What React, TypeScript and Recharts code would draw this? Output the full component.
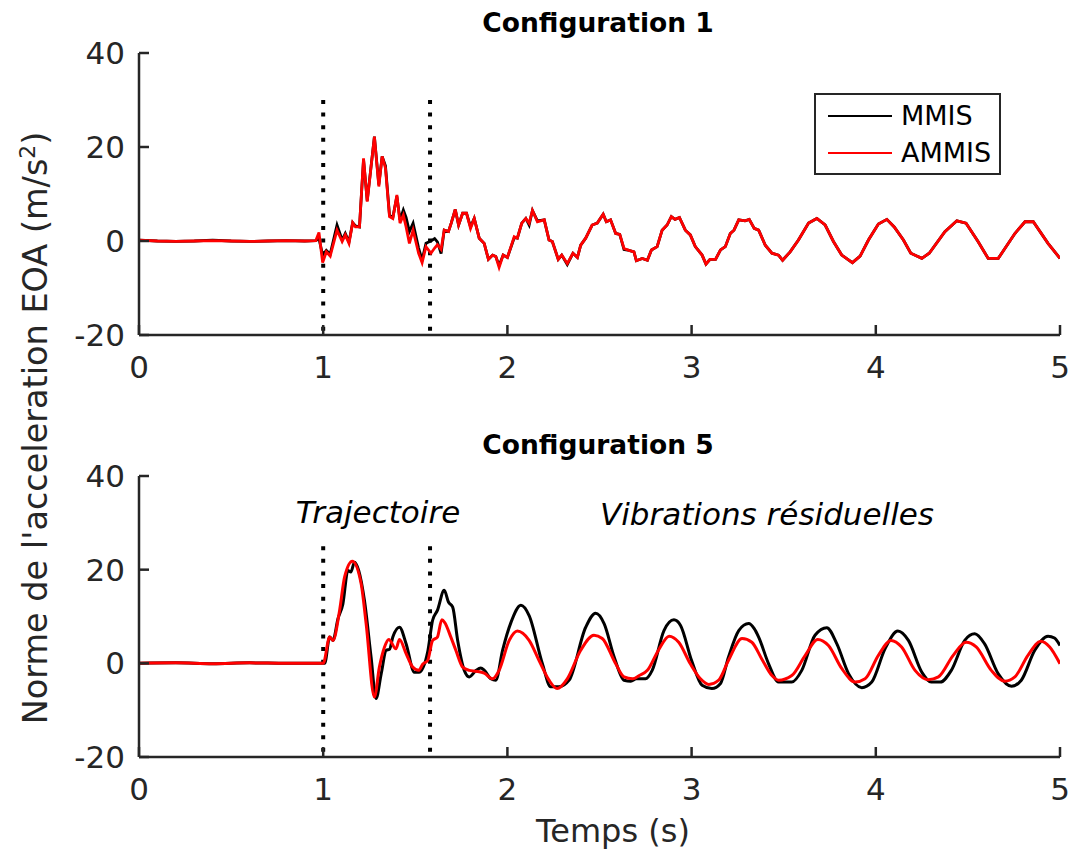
import React from 'react';
import { LineChart, Line, XAxis, YAxis, ReferenceLine, Legend } from 'recharts';

// ---------- DATA ----------
const xTicks = [0, 1, 2, 3, 4, 5];
const yTicks = [-20, 0, 20, 40];
const phaseBounds = [1.0, 1.58];
const dividerTop1 = 30;
const dividerTop2 = 25;

// Configuration 1 (shared time base)
const c1Time = [
  0, 0.1, 0.2, 0.3, 0.4, 0.5, 0.6, 0.7, 0.8, 0.9, 0.96, 0.977, 0.997, 1.017, 1.038, 1.075, 1.103, 1.12, 1.14, 1.16,
  1.175, 1.197, 1.219, 1.239, 1.278, 1.302, 1.32, 1.338, 1.36, 1.378, 1.4, 1.417, 1.435, 1.45, 1.468, 1.488, 1.518, 1.537, 1.558, 1.585,
  1.605, 1.62, 1.64, 1.657, 1.68, 1.695, 1.717, 1.735, 1.757, 1.778, 1.8, 1.82, 1.847, 1.874, 1.897, 1.92, 1.937, 1.955, 1.977, 2.0,
  2.037, 2.054, 2.078, 2.1, 2.118, 2.136, 2.163, 2.2, 2.226, 2.244, 2.276, 2.295, 2.325, 2.356, 2.38, 2.398, 2.425, 2.46, 2.488, 2.52,
  2.537, 2.56, 2.588, 2.61, 2.633, 2.66, 2.687, 2.7, 2.732, 2.76, 2.782, 2.813, 2.84, 2.867, 2.89, 2.91, 2.934, 2.966, 2.993, 3.02,
  3.057, 3.078, 3.1, 3.13, 3.157, 3.183, 3.21, 3.23, 3.256, 3.29, 3.313, 3.34, 3.364, 3.4, 3.436, 3.472, 3.494, 3.535, 3.58, 3.635,
  3.68, 3.725, 3.77, 3.815, 3.873, 3.915, 3.96, 4.014, 4.06, 4.1, 4.15, 4.19, 4.25, 4.29, 4.375, 4.44, 4.49, 4.555, 4.61, 4.665,
  4.755, 4.81, 4.855, 4.935, 5.0,
];
const c1Mmis = [
  0.2, 0, -0.1, 0, 0.2, 0, -0.1, 0, 0.1, 0, 0.1, 0.5, -3.0, -2.0, -2.8, 3.4, 0.2, 1.6, -0.2, 3.9,
  3.2, 3.0, 17.3, 8.6, 22.2, 12.0, 18.0, 16.0, 5.5, 5.0, 9.5, 4.5, 6.6, 5.0, 2.0, 3.8, -1.5, -4.0, -0.5, 0.0,
  0.5, -0.2, -2.7, 2.3, 2.0, 3.8, 6.7, 3.4, 5.9, 5.9, 3.0, 4.8, 0.6, -0.5, -3.9, -3.0, -3.3, -5.2, -3.0, -3.5,
  0.7, 0.6, 3.8, 4.8, 3.4, 6.5, 4.3, 4.5, 0.2, -0.1, -3.9, -3.0, -5.0, -2.6, -3.5, -0.9, 0.6, 3.4, 3.8, 5.7,
  4.1, 4.5, 1.6, 1.4, -1.8, -2.0, -2.3, -4.2, -3.7, -4.1, -1.9, -1.2, 2.3, 3.4, 5.2, 4.6, 5.0, 2.3, 1.3, -1.2,
  -3.0, -4.9, -3.9, -3.9, -1.9, -1.2, 1.6, 2.3, 4.5, 4.3, 4.6, 2.7, 2.3, -0.9, -2.6, -3.0, -4.1, -2.3, 0.2, 3.8,
  4.8, 3.4, -0.1, -3.0, -4.6, -3.2, 0.2, 3.6, 4.6, 3.0, 0.2, -2.6, -3.7, -2.6, 2.0, 4.3, 3.8, -0.1, -3.7, -3.7,
  1.6, 4.1, 4.1, -0.5, -3.7,
];
const c1Ammis = [
  0.2, 0, -0.1, 0, 0.1, 0, -0.1, 0, 0.1, 0, 0.1, 1.8, -4.6, -2.3, -3.2, 2.3, -0.1, 1.3, -0.5, 3.9,
  3.0, 3.0, 17.6, 8.4, 22.2, 11.6, 18.0, 15.5, 5.2, 4.8, 9.8, 3.8, 5.5, 3.0, -0.5, 2.3, -2.6, -4.6, -1.2, -2.6,
  -1.5, -0.8, -1.8, 2.3, 2.0, 3.8, 6.7, 3.4, 5.9, 5.9, 2.7, 4.8, 0.6, -0.5, -3.9, -3.0, -3.3, -5.6, -3.0, -3.5,
  0.9, 0.6, 3.8, 4.8, 3.8, 6.5, 4.1, 4.5, 0.2, -0.1, -3.9, -3.0, -4.8, -2.6, -3.5, -0.9, 0.6, 3.4, 3.8, 5.7,
  4.1, 4.5, 1.6, 1.4, -1.6, -2.0, -2.3, -4.2, -3.7, -4.1, -1.9, -1.2, 2.3, 3.4, 5.2, 4.6, 5.0, 2.3, 1.3, -1.2,
  -3.0, -4.9, -3.9, -3.9, -1.9, -1.2, 1.6, 2.3, 4.5, 4.3, 4.6, 2.7, 2.3, -0.9, -2.6, -3.0, -4.1, -2.3, 0.2, 3.8,
  4.8, 3.4, -0.1, -3.0, -4.6, -3.2, 0.2, 3.6, 4.6, 3.0, 0.2, -2.6, -3.7, -2.6, 2.0, 4.3, 3.8, -0.1, -3.7, -3.7,
  1.6, 4.1, 4.1, -0.5, -3.7,
];

// Configuration 5
const c5MmisTime = [
  0, 0.2, 0.4, 0.6, 0.8, 1.0, 1.008, 1.035, 1.053, 1.08, 1.107, 1.134, 1.15, 1.17, 1.193, 1.224, 1.26, 1.287, 1.315, 1.342,
  1.36, 1.378, 1.414, 1.45, 1.495, 1.52, 1.567, 1.594, 1.62, 1.657, 1.68, 1.703, 1.73, 1.766, 1.793, 1.83, 1.855, 1.875, 1.91, 1.937,
  1.974, 2.02, 2.073, 2.118, 2.19, 2.235, 2.28, 2.335, 2.425, 2.479, 2.525, 2.58, 2.633, 2.67, 2.7, 2.75, 2.786, 2.85, 2.904, 2.94,
  3.0, 3.057, 3.11, 3.157, 3.2, 3.256, 3.31, 3.34, 3.364, 3.418, 3.472, 3.544, 3.598, 3.67, 3.734, 3.788, 3.852, 3.924, 3.978, 4.05,
  4.12, 4.177, 4.25, 4.3, 4.35, 4.41, 4.483, 4.537, 4.59, 4.664, 4.737, 4.79, 4.863, 4.935, 4.97, 5.0,
];
const c5MmisValue = [
  0, 0.1, -0.1, 0.1, 0, 0, 0, 5.6, 4.9, 9.5, 12.7, 19.8, 19.5, 21.6, 19.8, 13.4, 1.3, -7.5, -2.2, 2.8,
  3.0, 5.6, 7.7, 4.2, -1.9, -1.9, 2.4, 9.2, 11.3, 15.6, 13.1, 12.0, 4.9, -1.5, -2.9, -1.5, -1.0, -1.5, -3.3, -3.6,
  2.8, 8.8, 12.4, 10.2, -0.1, -5.0, -5.0, -3.6, 7.7, 10.7, 8.5, 1.3, -3.6, -3.8, -3.3, -3.3, -1.5, 7.0, 9.3, 8.1,
  0.6, -4.7, -5.4, -4.3, 1.3, 7.0, 8.5, 7.4, 5.6, -0.1, -4.0, -4.0, -1.5, 6.0, 7.6, 4.2, -2.2, -5.2, -4.0, 3.1,
  6.9, 4.9, -1.9, -4.0, -4.0, -1.5, 4.9, 6.3, 4.2, -2.2, -4.9, -3.6, 2.8, 5.8, 5.4, 3.8,
];
const c5AmmisTime = [
  0, 0.2, 0.4, 0.6, 0.8, 1.0, 1.035, 1.053, 1.089, 1.116, 1.158, 1.206, 1.233, 1.278, 1.305, 1.333, 1.356, 1.395, 1.414, 1.45,
  1.486, 1.518, 1.54, 1.567, 1.594, 1.62, 1.644, 1.66, 1.693, 1.72, 1.757, 1.793, 1.83, 1.874, 1.92, 1.955, 2.01, 2.054, 2.118, 2.172,
  2.226, 2.27, 2.325, 2.398, 2.47, 2.515, 2.588, 2.633, 2.68, 2.716, 2.76, 2.82, 2.878, 2.93, 2.993, 3.048, 3.093, 3.147, 3.2, 3.274,
  3.327, 3.38, 3.436, 3.472, 3.544, 3.617, 3.685, 3.743, 3.815, 3.888, 3.942, 4.014, 4.083, 4.14, 4.213, 4.285, 4.34, 4.42, 4.49, 4.545,
  4.627, 4.7, 4.755, 4.826, 4.895, 4.944, 5.0,
];
const c5AmmisValue = [
  0, 0.1, -0.1, 0.1, 0, 0, 5.6, 4.9, 11.3, 18.4, 21.8, 17.0, 8.5, -7.2, -0.8, 3.5, 5.1, 3.1, 5.1, 2.1,
  -0.8, -1.5, -0.2, 0.6, 4.9, 5.6, 9.3, 8.7, 5.6, 2.8, -0.8, -1.5, -1.7, -2.1, -3.3, -1.5, 4.9, 6.9, 4.9, 0.6,
  -3.6, -5.4, -3.3, 2.8, 6.0, 5.3, -0.1, -2.9, -3.3, -2.6, -1.5, 2.8, 5.8, 4.5, -0.1, -3.3, -4.5, -3.6, 0.6, 5.3,
  4.5, 1.0, -2.6, -3.6, -2.6, 1.7, 5.1, 3.8, -1.1, -4.0, -3.3, 1.7, 4.9, 3.5, -1.5, -3.5, -2.9, 1.7, 4.5, 3.5,
  -1.5, -3.8, -2.9, 1.7, 4.7, 3.5, -0.1,
];

const seriesNames = ['MMIS', 'AMMIS'];
const titles = ['Configuration 1', 'Configuration 5'];
const annotations = ['Trajectoire', 'Vibrations résiduelles'];

// ---------- build tables ----------
const zip = (ts: number[], vs: number[]) => ts.map((t, i) => ({ t, v: vs[i] }));
const c1M = zip(c1Time, c1Mmis);
const c1A = zip(c1Time, c1Ammis);
const c5M = zip(c5MmisTime, c5MmisValue);
const c5A = zip(c5AmmisTime, c5AmmisValue);

// ---------- styles ----------
const AX = '#262626';
const FONT = 'DejaVu Sans';
const TICK_FS = 31;
const Y_MARGIN = 14;
const X_MARGIN = 20;
const TICK_LEN = 10;

const YTick = (props: any) => {
  const { x, y, payload } = props;
  const ax = x + Y_MARGIN;
  return (
    <g>
      <line x1={ax} x2={ax + TICK_LEN} y1={y} y2={y} stroke={AX} strokeWidth={2.5} />
      <text x={x} y={y} dy="0.36em" textAnchor="end" fill={AX} fontSize={TICK_FS} fontFamily={FONT}>
        {payload.value}
      </text>
    </g>
  );
};

const XTick = (props: any) => {
  const { x, y, payload } = props;
  const ay = y - X_MARGIN;
  return (
    <g>
      <line x1={x} x2={x} y1={ay} y2={ay - TICK_LEN} stroke={AX} strokeWidth={2.5} />
      <text x={x} y={y} dy="0.73em" textAnchor="middle" fill={AX} fontSize={TICK_FS} fontFamily={FONT}>
        {payload.value}
      </text>
    </g>
  );
};

const LegendBox = (props: any) => {
  const payload = [...((props.payload || []) as any[])].sort(
    (a: any, b: any) => seriesNames.indexOf(a.value) - seriesNames.indexOf(b.value)
  );
  return (
    <div
      style={{
        width: 183,
        height: 76,
        border: `2.5px solid ${AX}`,
        background: '#fff',
        boxSizing: 'content-box',
        fontFamily: FONT,
        fontSize: 27,
        color: '#000',
        paddingTop: 2,
      }}
    >
      {payload.map((p: any) => (
        <div key={p.value} style={{ display: 'flex', alignItems: 'center', height: 37 }}>
          <div style={{ width: 64, height: 0, borderTop: `2px solid ${p.color}`, marginLeft: 12, marginRight: 9 }} />
          <span>{p.value}</span>
        </div>
      ))}
    </div>
  );
};

const Panel = ({ data, top, height, margin, divTop, smooth, legend, lw }: any) => (
  <div style={{ position: 'absolute', left: 0, top }}>
    <LineChart width={1072} height={height} margin={margin}>
      <XAxis
        dataKey="t"
        type="number"
        domain={[0, 5]}
        ticks={xTicks}
        allowDataOverflow
        height={30}
        tickSize={0}
        tickMargin={X_MARGIN}
        tickLine={false}
        tick={<XTick />}
        axisLine={{ stroke: AX, strokeWidth: 2.5 }}
        interval={0}
      />
      <YAxis
        dataKey="v"
        type="number"
        domain={[-20, 40]}
        ticks={yTicks}
        allowDataOverflow
        width={60}
        tickSize={0}
        tickMargin={Y_MARGIN}
        tickLine={false}
        tick={<YTick />}
        axisLine={{ stroke: AX, strokeWidth: 2.5 }}
        interval={0}
      />
      {phaseBounds.map((b) => (
        <ReferenceLine
          key={b}
          segment={[{ x: b, y: divTop }, { x: b, y: -20 }]}
          stroke="#000"
          strokeWidth={4}
          strokeDasharray="4 8.6"
        />
      ))}
      <Line
        data={data[0]}
        dataKey="v"
        name={seriesNames[0]}
        type={smooth ? 'monotone' : 'linear'}
        stroke="#000000"
        strokeWidth={lw}
        dot={false}
        isAnimationActive={false}
      />
      <Line
        data={data[1]}
        dataKey="v"
        name={seriesNames[1]}
        type={smooth ? 'monotone' : 'linear'}
        stroke="#ff0000"
        strokeWidth={lw}
        dot={false}
        isAnimationActive={false}
      />
      {legend && (
        <Legend
          layout="vertical"
          align="center"
          verticalAlign="middle"
          content={<LegendBox />}
          wrapperStyle={{ left: 814, top: 93, width: 190, height: 84 }}
        />
      )}
    </LineChart>
  </div>
);

export default function App() {
  return (
    <div
      style={{
        position: 'absolute',
        left: 0,
        top: 0,
        width: 1072,
        height: 852,
        background: '#fff',
        fontFamily: FONT,
        overflow: 'hidden',
      }}
    >
      <Panel
        data={[c1M, c1A]}
        top={0}
        height={420}
        margin={{ top: 53, right: 12, bottom: 55, left: 79 }}
        divTop={dividerTop1}
        smooth={false}
        legend
        lw={2.8}
      />
      <Panel
        data={[c5M, c5A]}
        top={420}
        height={432}
        margin={{ top: 56, right: 12, bottom: 65, left: 79 }}
        divTop={dividerTop2}
        smooth
        lw={3}
      />
      {/* titles */}
      <div style={{ position: 'absolute', left: 598, top: 8, transform: 'translateX(-50%)', fontWeight: 'bold', fontSize: 26.5, whiteSpace: 'nowrap', color: '#000', lineHeight: '30px' }}>
        {titles[0]}
      </div>
      <div style={{ position: 'absolute', left: 598, top: 430, transform: 'translateX(-50%)', fontWeight: 'bold', fontSize: 26.5, whiteSpace: 'nowrap', color: '#000', lineHeight: '30px' }}>
        {titles[1]}
      </div>
      {/* annotations */}
      <div style={{ position: 'absolute', left: 378, top: 494, transform: 'translateX(-50%)', fontStyle: 'italic', fontSize: 31, whiteSpace: 'nowrap', color: '#000', lineHeight: '36px' }}>
        {annotations[0]}
      </div>
      <div style={{ position: 'absolute', left: 767, top: 496, transform: 'translateX(-50%)', fontStyle: 'italic', fontSize: 31, whiteSpace: 'nowrap', color: '#000', lineHeight: '36px' }}>
        {annotations[1]}
      </div>
      {/* axis labels */}
      <div style={{ position: 'absolute', left: 613, top: 812, transform: 'translateX(-50%)', fontSize: 32, whiteSpace: 'nowrap', color: AX, lineHeight: '38px' }}>
        Temps (s)
      </div>
      <div
        style={{
          position: 'absolute',
          left: 36,
          top: 428,
          transform: 'translate(-50%, -50%) rotate(-90deg)',
          fontSize: 33.5,
          whiteSpace: 'nowrap',
          color: AX,
          lineHeight: '38px',
        }}
      >
        Norme de l'acceleration EOA (m/s<sup style={{ fontSize: '0.65em', verticalAlign: '0.55em', lineHeight: 0 }}>2</sup>)
      </div>
    </div>
  );
}
